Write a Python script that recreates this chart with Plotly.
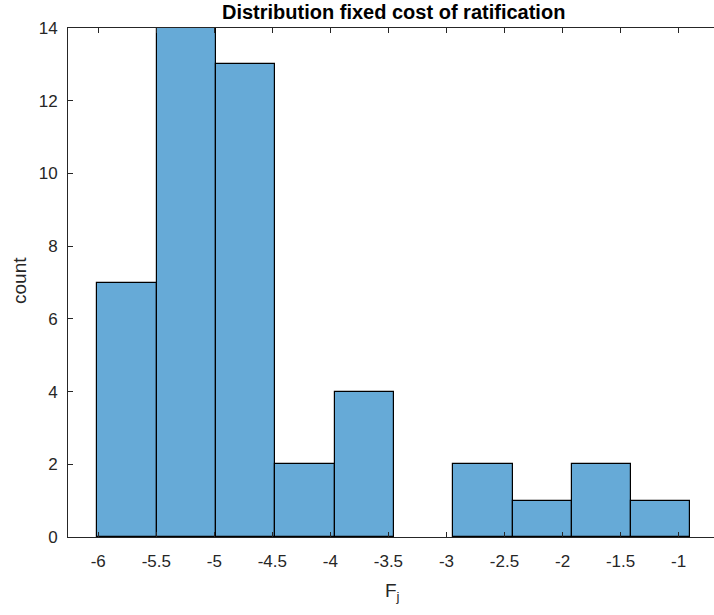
import plotly.graph_objects as go

# Histogram data
bin_edges = [-6.008, -5.497, -4.986, -4.475, -3.964, -3.453, -2.942, -2.431, -1.920, -1.409, -0.898]
counts = [7, 14, 13, 2, 4, 0, 2, 1, 2, 1]
x_ticks = [-6, -5.5, -5, -4.5, -4, -3.5, -3, -2.5, -2, -1.5, -1]
x_tick_labels = ["-6", "-5.5", "-5", "-4.5", "-4", "-3.5", "-3", "-2.5", "-2", "-1.5", "-1"]
y_ticks = [0, 2, 4, 6, 8, 10, 12, 14]
title_text = "Distribution fixed cost of ratification"
x_label = "F<sub>j</sub>"
y_label = "count"

centers = [(a + b) / 2 for a, b in zip(bin_edges[:-1], bin_edges[1:])]
widths = [b - a for a, b in zip(bin_edges[:-1], bin_edges[1:])]
outline_widths = [1.2 if c > 0 else 0 for c in counts]

AX = "#262626"
FONT = "Liberation Sans, Arial, Helvetica, sans-serif"

fig = go.Figure()
fig.add_trace(go.Bar(
    x=centers, y=counts, width=widths,
    marker=dict(color="#66aad7", line=dict(color="#000000", width=outline_widths)),
    showlegend=False,
))

fig.update_layout(
    width=714, height=615,
    margin=dict(l=68, r=0, t=28, b=78),
    paper_bgcolor="white", plot_bgcolor="white",
    bargap=0,
    font=dict(family=FONT, size=17, color=AX),
    xaxis=dict(
        range=[-6.2606, -0.695],
        tickvals=x_ticks, ticktext=x_tick_labels,
        ticks="inside", ticklen=5, tickwidth=1, tickcolor=AX,
        showline=True, linecolor=AX, linewidth=1, mirror="ticks",
        showgrid=False, zeroline=False,
        tickfont=dict(size=17, color=AX),
        ticklabelstandoff=9,
    ),
    yaxis=dict(
        range=[0, 14],
        tickvals=y_ticks,
        ticks="inside", ticklen=5, tickwidth=1, tickcolor=AX,
        showline=True, linecolor=AX, linewidth=1,
        showgrid=False, zeroline=False,
        tickfont=dict(size=17, color=AX),
        ticklabelstandoff=6,
    ),
    annotations=[
        dict(text=f"<b>{title_text}</b>", xref="paper", yref="paper",
             x=(393.5 - 68) / 646, y=1 + (28 - 12) / 509, xanchor="center", yanchor="middle",
             showarrow=False, font=dict(family=FONT, size=20, color="#000000")),
        dict(text=x_label, xref="paper", yref="paper",
             x=(392 - 68) / 646, y=-(592 - 537) / 509, xanchor="center", yanchor="middle",
             showarrow=False, font=dict(family=FONT, size=19, color=AX)),
        dict(text=y_label, xref="paper", yref="paper",
             x=-(68 - 19) / 646, y=(537 - 281) / 509, xanchor="center", yanchor="middle",
             textangle=-90, showarrow=False, font=dict(family=FONT, size=19, color=AX)),
    ],
)

fig.write_html("out.html")
